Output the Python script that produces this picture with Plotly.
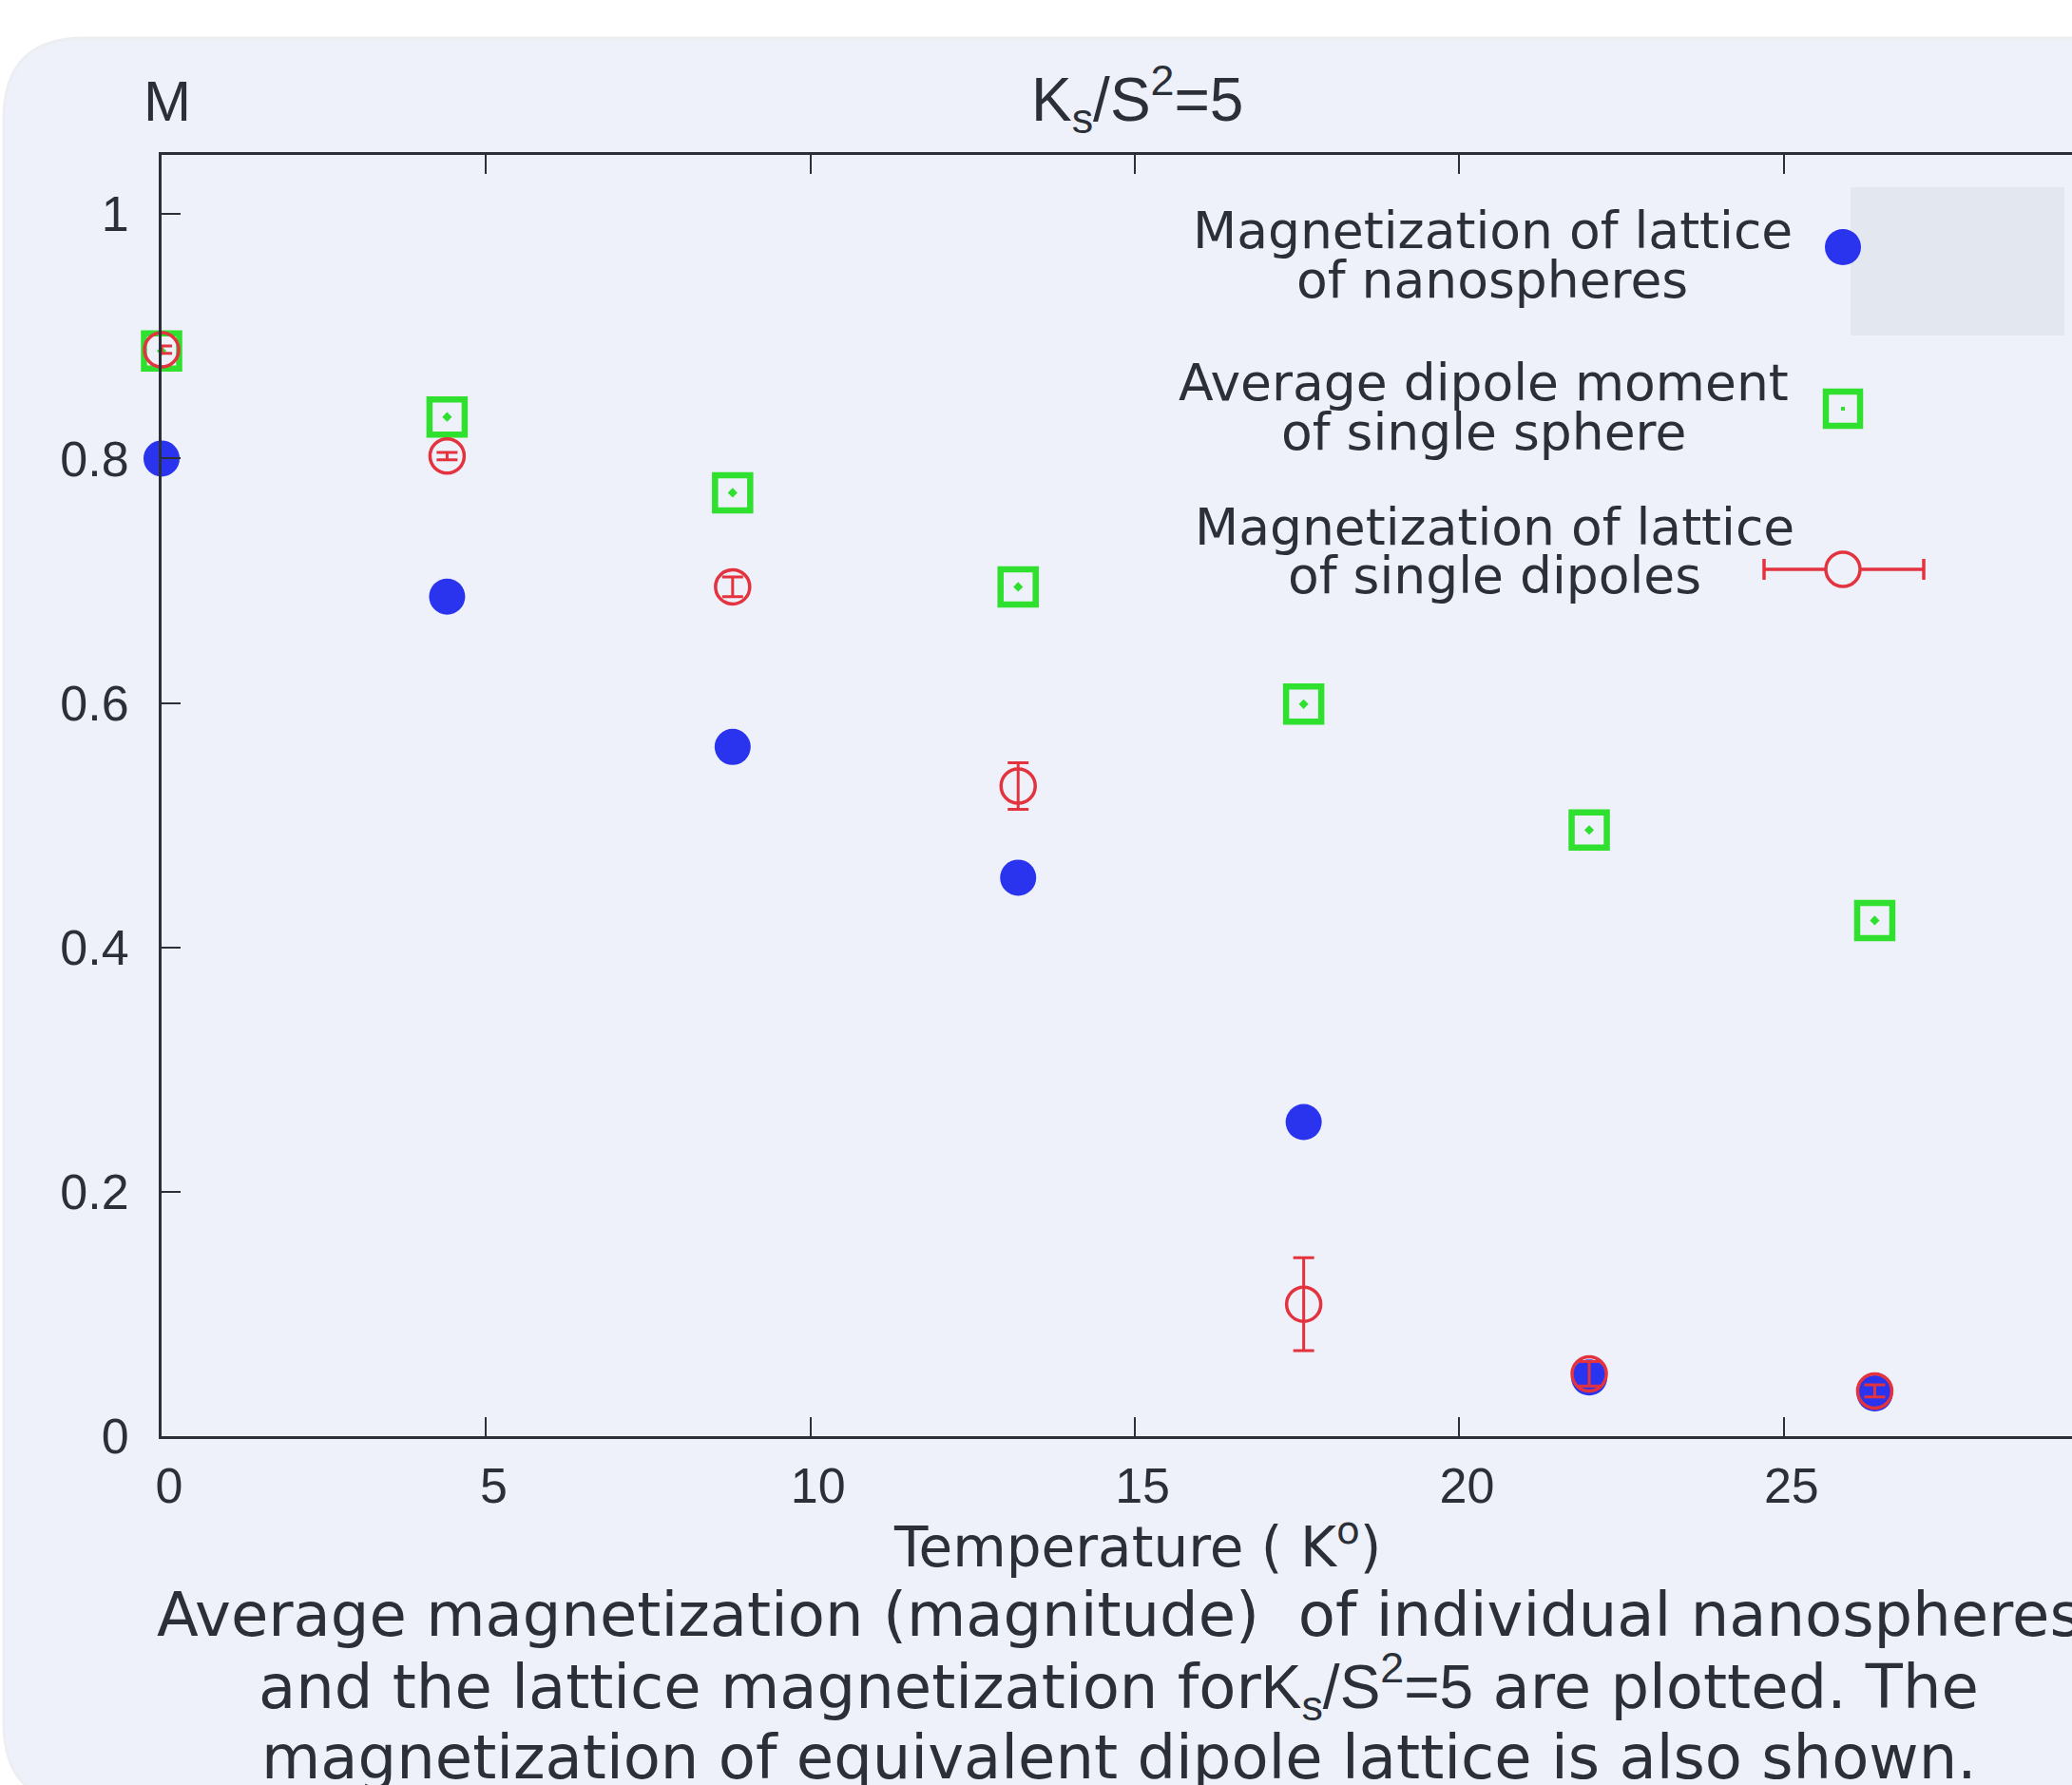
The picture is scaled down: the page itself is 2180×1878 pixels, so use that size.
import plotly.graph_objects as go

# ---------------- data ----------------
temperature = [0.0, 4.4, 8.8, 13.2, 17.6, 22.0, 26.4]
m_lattice_nanospheres = [0.800, 0.687, 0.564, 0.457, 0.257, 0.048, 0.035]
avg_dipole_single_sphere = [0.888, 0.834, 0.772, 0.695, 0.599, 0.496, 0.422]
m_lattice_single_dipoles = [0.889, 0.802, 0.695, 0.532, 0.108, 0.051, 0.037]
m_lattice_single_dipoles_err = [0.003, 0.003, 0.008, 0.019, 0.038, 0.010, 0.005]

x_ticks = [0, 5, 10, 15, 20, 25]
y_ticks = [0, 0.2, 0.4, 0.6, 0.8, 1]
y_tick_text = ["0", "0.2", "0.4", "0.6", "0.8", "1"]

legend_names = [
    ["Magnetization of lattice", "of nanospheres"],
    ["Average dipole moment", "of single sphere"],
    ["Magnetization of lattice", "of single dipoles"],
]
caption_lines = [
    "Average magnetization (magnitude)  of individual nanospheres",
    "and the lattice magnetization for<span style=\"font-family:'Liberation Sans'\">K<sub>s</sub>/S<sup>2</sup>=5</span> are plotted. The",
    "magnetization of equivalent dipole lattice is also shown.",
]

# ---------------- style ----------------
W, H = 2180, 1878
L, R, T, B = 170, 0, 163, 367
PW, PH = W - L - R, H - T - B
BLUE = "#2a33ee"
GREEN = "#2fe02f"
RED = "#e3333f"
INK = "#2b2f38"
CARD = "#eef1f9"
SANS = "Liberation Sans"
DEJA = "DejaVu Sans"


def px(xp):
    return (xp - L) / PW


def py(yp):
    return (H - B - yp) / PH


fig = go.Figure()

fig.add_trace(go.Scatter(
    x=temperature, y=m_lattice_nanospheres, mode="markers",
    name=" ".join(legend_names[0]), cliponaxis=False,
    marker=dict(symbol="circle", size=38, color=BLUE, line=dict(width=0)),
))
fig.add_trace(go.Scatter(
    x=temperature, y=avg_dipole_single_sphere, mode="markers",
    name=" ".join(legend_names[1]), cliponaxis=False,
    marker=dict(symbol="square-open-dot", size=37, color=GREEN, line=dict(width=6.5, color=GREEN)),
))
fig.add_trace(go.Scatter(
    x=temperature, y=m_lattice_single_dipoles, mode="markers",
    name=" ".join(legend_names[2]), cliponaxis=False,
    marker=dict(symbol="circle-open", size=36, color=RED, line=dict(width=3.5, color=RED)),
    error_y=dict(type="data", array=m_lattice_single_dipoles_err, visible=True,
                 color=RED, thickness=3, width=11),
))

shapes = []
# card background with rounded left corners
x0, x1, y0, y1, r = 4, W + 20, 40, H + 20, 85
path = (
    f"M {px(x0 + r)},{py(y0)} L {px(x1)},{py(y0)} L {px(x1)},{py(y1)} "
    f"L {px(x0 + r)},{py(y1)} Q {px(x0)},{py(y1)} {px(x0)},{py(y1 - r)} "
    f"L {px(x0)},{py(y0 + r)} Q {px(x0)},{py(y0)} {px(x0 + r)},{py(y0)} Z"
)
shapes.append(dict(type="path", path=path, xref="paper", yref="paper",
                   fillcolor=CARD, line=dict(color="#eceef2", width=3), layer="below"))
# darker patch beside first key
shapes.append(dict(type="rect", xref="paper", yref="paper",
                   x0=px(1947), x1=px(2172), y0=py(353), y1=py(197),
                   fillcolor="#e3e7f0", line=dict(width=0), layer="below"))

# legend keys
kx = 1939
# blue circle
shapes.append(dict(type="circle", xref="paper", yref="paper",
                   x0=px(kx - 19), x1=px(kx + 19), y0=py(260 + 19), y1=py(260 - 19),
                   fillcolor=BLUE, line=dict(width=0)))
# green square with dot
shapes.append(dict(type="rect", xref="paper", yref="paper",
                   x0=px(kx - 18), x1=px(kx + 18), y0=py(430 + 18), y1=py(430 - 18),
                   fillcolor="rgba(0,0,0,0)", line=dict(width=6.5, color=GREEN)))
shapes.append(dict(type="rect", xref="paper", yref="paper",
                   x0=px(kx - 2), x1=px(kx + 2), y0=py(430 + 2), y1=py(430 - 2),
                   fillcolor=GREEN, line=dict(width=0)))
# red open circle with horizontal bar and caps
ry = 599
shapes.append(dict(type="circle", xref="paper", yref="paper",
                   x0=px(kx - 18), x1=px(kx + 18), y0=py(ry + 18), y1=py(ry - 18),
                   fillcolor="rgba(0,0,0,0)", line=dict(width=3.5, color=RED)))
for a, b in [(1856, kx - 18), (kx + 18, 2024)]:
    shapes.append(dict(type="line", xref="paper", yref="paper",
                       x0=px(a), x1=px(b), y0=py(ry), y1=py(ry),
                       line=dict(width=3.5, color=RED)))
for cx in (1856, 2024):
    shapes.append(dict(type="line", xref="paper", yref="paper",
                       x0=px(cx), x1=px(cx), y0=py(ry - 11), y1=py(ry + 11),
                       line=dict(width=3.5, color=RED)))

annotations = []
# axis label "M" and title
annotations.append(dict(text="M", xref="paper", yref="paper", x=px(176), y=py(106),
                        xanchor="center", yanchor="middle", showarrow=False,
                        font=dict(family=SANS, size=60, color=INK)))
annotations.append(dict(text="K<sub>s</sub>/S<sup>2</sup>=5", xref="paper", yref="paper",
                        x=px(1196), y=py(104), xanchor="center", yanchor="middle",
                        showarrow=False, font=dict(family=SANS, size=64, color=INK)))
# x axis title
annotations.append(dict(text="Temperature ( K<sup>o</sup>)", xref="paper", yref="paper",
                        x=px(1196), y=py(1624), xanchor="center", yanchor="middle",
                        showarrow=False, font=dict(family=DEJA, size=58, color=INK)))
# legend text
legend_pos = [(1570, 242, 294), (1561, 402, 454), (1572, 554, 605)]
for names, (cx, ya, yb) in zip(legend_names, legend_pos):
    for t, yy in zip(names, (ya, yb)):
        annotations.append(dict(text=t, xref="paper", yref="paper", x=px(cx), y=py(yy),
                                xanchor="center", yanchor="middle", showarrow=False,
                                font=dict(family=DEJA, size=53.5, color=INK)))
# caption
for t, yy in zip(caption_lines, (1699, 1774, 1849)):
    annotations.append(dict(text=t, xref="paper", yref="paper", x=px(1177), y=py(yy),
                            xanchor="center", yanchor="middle", showarrow=False,
                            font=dict(family=DEJA, size=64, color=INK)))

fig.update_layout(
    width=W, height=H,
    margin=dict(l=L, r=R, t=T, b=B, pad=0),
    paper_bgcolor="white",
    plot_bgcolor="rgba(0,0,0,0)",
    showlegend=False,
    shapes=shapes,
    annotations=annotations,
    xaxis=dict(range=[0, 29.44], tickvals=x_ticks, ticks="inside", ticklen=20, tickwidth=2,
               tickcolor=INK, showline=True, linecolor=INK, linewidth=3, mirror="ticks",
               showgrid=False, zeroline=False, ticklabelstandoff=5, ticklabelshift=8,
               tickfont=dict(family=SANS, size=52, color=INK)),
    yaxis=dict(range=[0, 1.0484], tickvals=y_ticks, ticktext=y_tick_text, ticks="inside",
               ticklen=20, tickwidth=2, tickcolor=INK, showline=True, linecolor=INK,
               linewidth=3, showgrid=False, zeroline=False, ticklabelstandoff=21,
               tickfont=dict(family=SANS, size=52, color=INK)),
)

fig.write_html("out.html")
